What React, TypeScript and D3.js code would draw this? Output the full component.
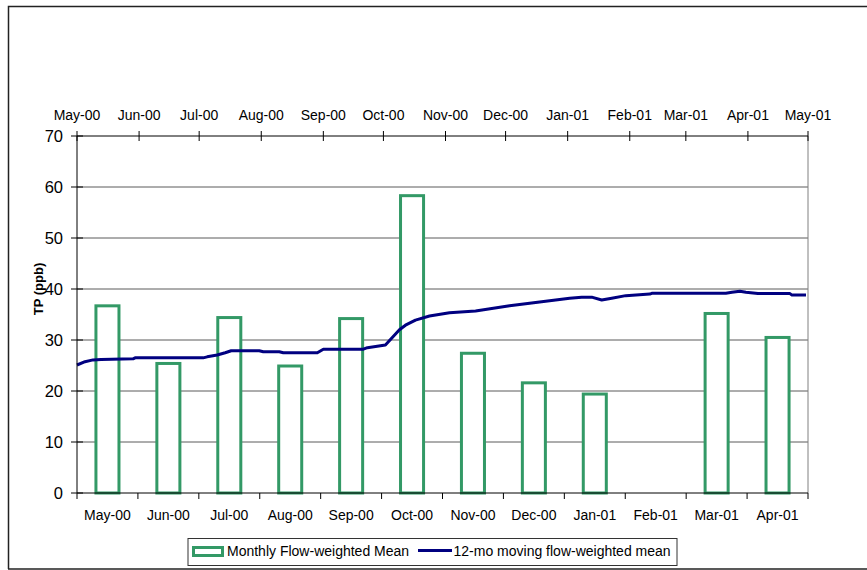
import React from "react";
import * as d3 from "d3";

const months = ["May-00","Jun-00","Jul-00","Aug-00","Sep-00","Oct-00","Nov-00","Dec-00","Jan-01","Feb-01","Mar-01","Apr-01"];
const monthlyMean: (number | null)[] = [36.7, 25.4, 34.4, 24.9, 34.2, 58.3, 27.4, 21.6, 19.4, null, 35.2, 30.5];

const movingDates = ["2000-05-01","2000-05-05","2000-05-09","2000-05-13","2000-05-29","2000-05-30","2000-07-03","2000-07-05","2000-07-10","2000-07-14","2000-07-17","2000-07-31","2000-08-02","2000-08-10","2000-08-12","2000-08-29","2000-09-01","2000-09-21","2000-09-23","2000-10-02","2000-10-09","2000-10-12","2000-10-17","2000-10-24","2000-11-03","2000-11-16","2000-12-03","2000-12-19","2001-01-02","2001-01-08","2001-01-13","2001-01-18","2001-01-23","2001-01-30","2001-02-11","2001-02-12","2001-03-21","2001-03-24","2001-03-28","2001-03-31","2001-04-06","2001-04-22","2001-04-23","2001-04-30"];
const movingMean = [25.1,25.75,26.1,26.2,26.3,26.5,26.5,26.7,27.05,27.5,27.9,27.9,27.7,27.7,27.5,27.5,28.2,28.2,28.5,29.0,32.0,32.9,33.9,34.7,35.35,35.7,36.7,37.5,38.2,38.4,38.4,37.85,38.2,38.7,39.0,39.15,39.15,39.35,39.55,39.35,39.1,39.1,38.8,38.8];

const yTicks = [0, 10, 20, 30, 40, 50, 60, 70];
const seriesNames = ["Monthly Flow-weighted Mean", "12-mo moving flow-weighted mean"];

const W = 867, H = 570;
const L = 77, R = 808, T = 136, B = 493;
const FONT = "'Liberation Sans', Arial, sans-serif";
const GREEN = "#339966";
const NAVY = "#000080";

export default function App() {
  const parse = d3.timeParse("%Y-%m-%d");
  const y = d3.scaleLinear().domain([0, 70]).range([B, T]);
  const xb = d3.scaleBand<string>().domain(months).range([L, R]).padding(0);
  const xt = d3.scaleTime().domain([new Date(2000, 4, 1), new Date(2001, 4, 1)]).range([L, R]);
  const topTicks = xt.ticks(d3.timeMonth.every(1)!);
  const fmt = d3.timeFormat("%b-%y");
  const barW = xb.bandwidth() * 0.378;
  const lineData = movingDates.map((d, i) => ({ d: parse(d)!, v: movingMean[i] }));
  const line = d3.line<{ d: Date; v: number }>().x(p => xt(p.d)).y(p => y(p.v));
  const bounds = months.map(m => xb(m)!).concat([R]);

  return (
    <svg width={W} height={H} style={{ position: "absolute", left: 0, top: 0 }} fontFamily={FONT}>
      <rect x={0} y={0} width={W} height={H} fill="#fff" />
      {/* outer frame */}
      <path d={`M${W + 5},6.5 H8.5 V569`} fill="none" stroke="#222" strokeWidth={1.5} />
      <line x1={8} x2={W} y1={569} y2={569} stroke="#222" strokeWidth={1.5} />

      {/* gridlines */}
      {yTicks.filter(t => t > 0 && t < 70).map(t => (
        <line key={t} x1={L} x2={R} y1={y(t)} y2={y(t)} stroke="#5a5a5a" strokeWidth={1} />
      ))}
      {/* right border */}
      <line x1={R} x2={R} y1={T} y2={B} stroke="#808080" strokeWidth={1} />

      {/* bars */}
      {monthlyMean.map((v, i) => v == null ? null : (
        <rect key={i}
          x={xb(months[i])! + xb.bandwidth() / 2 - barW / 2}
          y={y(v)}
          width={barW}
          height={y(0) - y(v)}
          fill="#fff" stroke={GREEN} strokeWidth={3} />
      ))}

      {/* moving mean line */}
      <path d={line(lineData) || ""} fill="none" stroke={NAVY} strokeWidth={3} strokeLinejoin="round" />

      {/* axes */}
      <line x1={L} x2={L} y1={T} y2={B} stroke="#000" />
      <line x1={L} x2={R} y1={B} y2={B} stroke="#000" />
      <line x1={L} x2={R} y1={T} y2={T} stroke="#000" />

      {/* y ticks and labels */}
      {yTicks.map(t => (
        <g key={t}>
          <line x1={L - 6} x2={L + 6} y1={y(t)} y2={y(t)} stroke="#000" />
          <text x={63} y={y(t) + 6} textAnchor="end" fontSize={16.5} fill="#000">{t}</text>
        </g>
      ))}
      <text transform={`translate(43,289) rotate(-90)`} textAnchor="middle" fontSize={13} fontWeight="bold" fill="#000">TP (ppb)</text>

      {/* bottom ticks and labels */}
      {bounds.map((b, i) => (
        <line key={i} x1={b} x2={b} y1={B} y2={B + 6} stroke="#000" />
      ))}
      {months.map(m => (
        <text key={m} x={xb(m)! + xb.bandwidth() / 2} y={520} textAnchor="middle" fontSize={14} fill="#000">{m}</text>
      ))}

      {/* top ticks and labels */}
      {topTicks.map((d, i) => (
        <g key={i}>
          <line x1={xt(d)} x2={xt(d)} y1={T - 5} y2={T + 5} stroke="#000" />
          <text x={xt(d)} y={119.5} textAnchor="middle" fontSize={14} fill="#000">{fmt(d)}</text>
        </g>
      ))}

      {/* legend */}
      <rect x={188} y={538.5} width={489} height={27} fill="#fff" stroke="#333" strokeWidth={1} />
      <rect x={193.5} y={547.5} width={29} height={8} fill="#fff" stroke={GREEN} strokeWidth={3} />
      <text x={227} y={555.5} fontSize={14} fill="#000">{seriesNames[0]}</text>
      <line x1={418} x2={452} y1={550.5} y2={550.5} stroke={NAVY} strokeWidth={3} />
      <text x={453.5} y={555.5} fontSize={14} fill="#000">{seriesNames[1]}</text>
    </svg>
  );
}
